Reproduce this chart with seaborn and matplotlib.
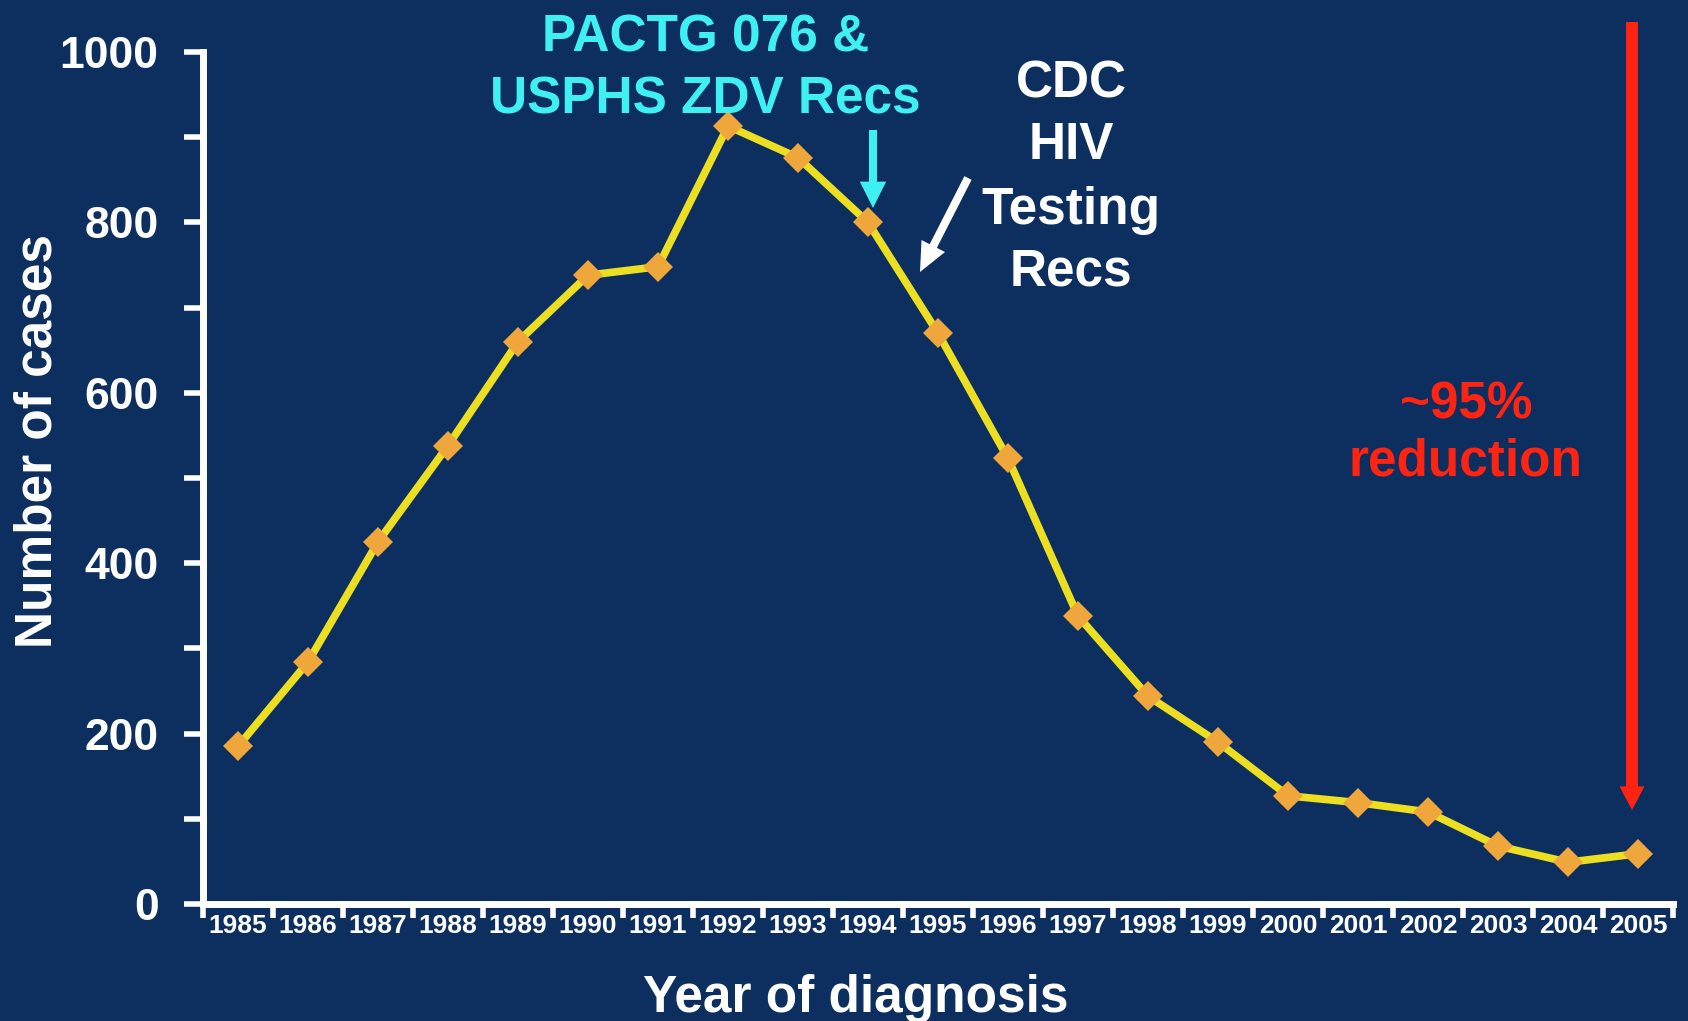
import pandas as pd
import matplotlib.pyplot as plt
import seaborn as sns

years = [1985, 1986, 1987, 1988, 1989, 1990, 1991, 1992, 1993, 1994, 1995,
         1996, 1997, 1998, 1999, 2000, 2001, 2002, 2003, 2004, 2005]
cases = [185, 284, 425, 538, 660, 738, 748, 913, 876, 800, 670,
         523, 338, 244, 190, 127, 119, 108, 68, 49, 59]
y_ticks = [0, 100, 200, 300, 400, 500, 600, 700, 800, 900, 1000]
y_labels = ["0", "", "200", "", "400", "", "600", "", "800", "", "1000"]

bg = "#0c2f60"
W, H = 1688, 1021

df = pd.DataFrame({"Year": years, "Cases": cases})

sns.set_style("ticks")
plt.rcParams["font.family"] = ["Liberation Sans", "DejaVu Sans"]
plt.rcParams["font.weight"] = "bold"

fig = plt.figure(figsize=(W / 100, H / 100), dpi=100, facecolor=bg)
ax = fig.add_axes([203 / W, 1 - 904 / H, (1673 - 203) / W, 852 / H])
ax.set_facecolor(bg)

sns.lineplot(data=df, x="Year", y="Cases", ax=ax, color="#ecdf22", linewidth=5.5,
             marker="D", markersize=15, markerfacecolor="#efa63a",
             markeredgewidth=0)

ax.set_xlim(1984.5, 2005.5)
ax.set_ylim(0, 1000)

# y axis
ax.set_yticks(y_ticks, y_labels)
ax.tick_params(axis="y", colors="white", labelsize=32, length=14, width=4, pad=18)

# x axis: ticks between years, labels centred on years
ax.set_xticks([y - 0.5 for y in years] + [2005.5])
ax.set_xticklabels([])
ax.set_xticks(years, minor=True)
ax.set_xticklabels([str(y) for y in years], minor=True,
                   fontsize=19, fontweight="bold")
ax.tick_params(axis="x", which="major", colors="white", length=10, width=4)
ax.tick_params(axis="x", which="minor", colors="white", length=0, pad=7)

for s in ["top", "right"]:
    ax.spines[s].set_visible(False)
for s in ["left", "bottom"]:
    ax.spines[s].set_color("white")
    ax.spines[s].set_linewidth(5)

ax.set_xlabel("")
ax.set_ylabel("")

fig.text(38 / W, 1 - 441 / H, "Number of cases", rotation=90, color="white",
         fontsize=37, fontweight="bold", ha="center", va="center")
fig.text(856 / W, 1 - 1012 / H, "Year of diagnosis", color="white",
         fontsize=37, fontweight="bold", ha="center", va="baseline")


def label(x, y, s, color):
    fig.text(x / W, 1 - y / H, s, color=color, fontsize=37, fontweight="bold",
             ha="center", va="baseline")


cyan = "#3ef0f2"
red = "#ff2312"
label(706, 51, "PACTG 076 &", cyan)
label(705, 114, "USPHS ZDV Recs", cyan)
label(1071, 97, "CDC", "white")
label(1071, 159, "HIV", "white")
label(1071, 224, "Testing", "white")
label(1071, 285, "Recs", "white")
label(1466, 418, "~95%", red)
label(1466, 476, "reduction", red)


def arrow(x0, y0, x1, y1, color, width, hw, hl):
    ax.annotate("", xy=(x1, H - y1), xytext=(x0, H - y0),
                xycoords="figure pixels", textcoords="figure pixels",
                arrowprops=dict(facecolor=color, edgecolor="none", width=width,
                                headwidth=hw, headlength=hl, shrink=0))


arrow(873, 130, 873, 208, cyan, 5.8, 19, 19)
arrow(968, 178, 920, 272, "white", 5.8, 19, 21)
arrow(1632, 22, 1632, 810, red, 8.6, 18, 17)

fig.savefig("out.png", dpi=100, facecolor=bg)
